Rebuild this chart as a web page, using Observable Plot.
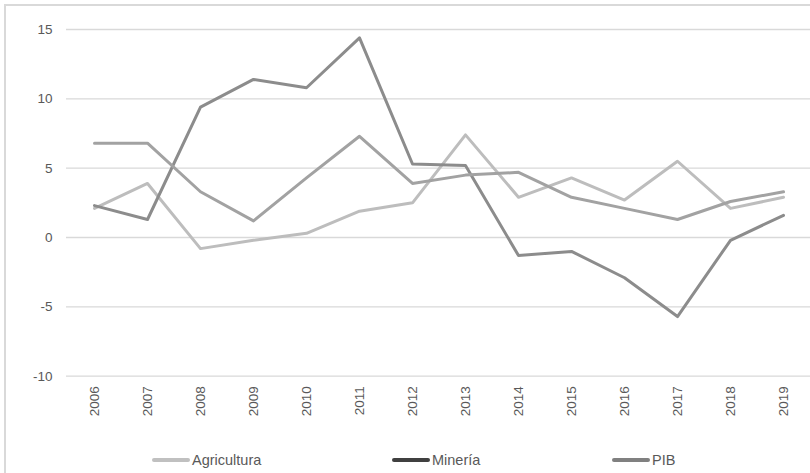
<!DOCTYPE html>
<html>
<head>
<meta charset="utf-8">
<script src="https://cdn.jsdelivr.net/npm/d3@7"></script>
<script src="https://cdn.jsdelivr.net/npm/@observablehq/plot@0.6"></script>
<style>
  html, body { margin: 0; padding: 0; background: #fff; }
  #wrap { position: relative; width: 810px; height: 473px; overflow: hidden; font-family: "Liberation Sans", Arial, sans-serif; }
  #frame { position: absolute; left: 4px; top: 4px; width: 900px; height: 600px; border-left: 2px solid #d9d9d9; border-top: 2px solid #d9d9d9; }
  #chart { position: absolute; left: 0; top: 0; }
  #legend { position: absolute; left: 0; top: 450px; width: 810px; height: 20px; font-size: 14.5px; color: #595959; }
  .item { position: absolute; top: 0; display: flex; align-items: center; height: 20px; }
  .sw { width: 38px; height: 4px; border-radius: 2px; margin-right: 2px; }
</style>
</head>
<body>
<div id="wrap">
  <div id="frame"></div>
  <div id="chart"></div>
  <div id="legend"></div>
</div>
<script>
const years = ["2006","2007","2008","2009","2010","2011","2012","2013","2014","2015","2016","2017","2018","2019"];
const agricultura = [2.1, 3.9, -0.8, -0.2, 0.3, 1.9, 2.5, 7.4, 2.9, 4.3, 2.7, 5.5, 2.1, 2.9];
const mineria = [2.3, 1.3, 9.4, 11.4, 10.8, 14.4, 5.3, 5.2, -1.3, -1.0, -2.9, -5.7, -0.2, 1.6];
const pib = [6.8, 6.8, 3.3, 1.2, 4.3, 7.3, 3.9, 4.5, 4.7, 2.9, 2.1, 1.3, 2.6, 3.3];
const yTicks = [-10, -5, 0, 5, 10, 15];
const seriesNames = ["Agricultura", "Minería", "PIB"];
const lineColors = ["#bdbdbd", "#8c8c8c", "#a2a2a2"];
const legendColors = ["#c0c0c0", "#404040", "#808080"];
const legendX = [152, 392, 612];

const rows = [];
[agricultura, mineria, pib].forEach((vals, i) => {
  years.forEach((yr, j) => rows.push({year: yr, value: vals[j], series: seriesNames[i]}));
});

const chart = Plot.plot({
  width: 810,
  height: 440,
  marginLeft: 66,
  marginRight: 0,
  marginTop: 29,
  marginBottom: 64.3,
  style: {fontFamily: "'Liberation Sans', Arial, sans-serif", fontSize: "13.5px", color: "#595959", background: "transparent"},
  x: {type: "point", domain: years, padding: 0.5, label: null},
  y: {domain: [-10, 15], label: null},
  color: {domain: seriesNames, range: lineColors},
  marks: [
    Plot.gridY(yTicks, {stroke: "#d9d9d9", strokeOpacity: 1, strokeWidth: 1.3}),
    Plot.axisY(yTicks, {tickSize: 0, tickPadding: 14, label: null, fill: "#595959", fontSize: 13.5, tickFormat: d => String(d)}),
    Plot.axisX(years, {tickSize: 0, tickPadding: 10, tickRotate: -90, label: null, fill: "#595959", fontSize: 13.5}),
    Plot.line(rows, {x: "year", y: "value", z: "series", stroke: "series", strokeWidth: 3, strokeLinejoin: "round", strokeLinecap: "round"})
  ]
});
document.getElementById("chart").appendChild(chart);

const legend = document.getElementById("legend");
seriesNames.forEach((name, i) => {
  const item = document.createElement("div");
  item.className = "item";
  item.style.left = legendX[i] + "px";
  const sw = document.createElement("div");
  sw.className = "sw";
  sw.style.background = legendColors[i];
  const t = document.createElement("span");
  t.textContent = name;
  item.appendChild(sw);
  item.appendChild(t);
  legend.appendChild(item);
});
</script>
</body>
</html>
